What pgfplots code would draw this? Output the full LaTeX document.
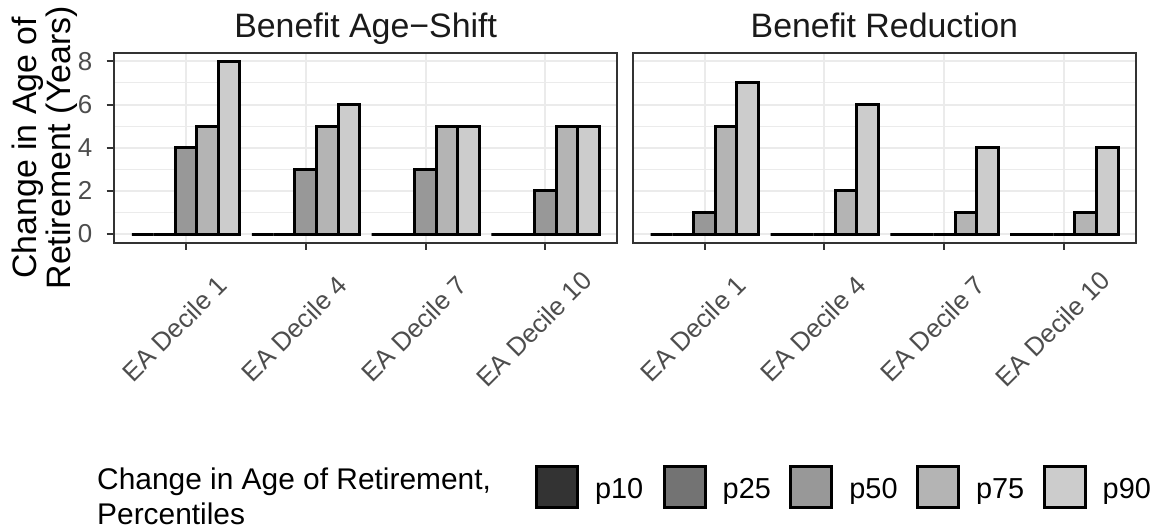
\documentclass[border=0pt]{standalone}
\usepackage{fontspec}
\setmainfont{Liberation Sans}
\usepackage{pgfplots}
\pgfplotsset{compat=1.18}
\definecolor{c10}{HTML}{333333}
\definecolor{c25}{HTML}{737373}
\definecolor{c50}{HTML}{989898}
\definecolor{c75}{HTML}{B4B4B4}
\definecolor{c90}{HTML}{CCCCCC}
\definecolor{gridc}{HTML}{EBEBEB}
\definecolor{borderc}{HTML}{333333}
\definecolor{tickc}{HTML}{4D4D4D}
\definecolor{titlec}{HTML}{1A1A1A}
\pgfplotsset{
  panel/.style={
    scale only axis, width=251.65bp, height=95bp, anchor=south west,
    xmin=0.4, xmax=4.6, ymin=-0.4, ymax=8.4,
    xtick={1,2,3,4},
    xticklabels={EA Decile 1, EA Decile 4, EA Decile 7, EA Decile 10},
    ytick={0,2,4,6,8}, minor ytick={1,3,5,7},
    xmajorgrids, ymajorgrids, yminorgrids,
    major grid style={color=gridc, line width=1bp},
    minor grid style={color=gridc, line width=0.55bp},
    axis line style={color=borderc, line width=1bp},
    tick align=outside, xtick pos=left, ytick pos=left,
    major tick length=3.65bp, minor tick length=0pt,
    tick style={color=borderc, line width=1bp},
    /pgf/number format/assume math mode=true,
    tick label style={font=\fontsize{13}{15.5}\selectfont, text=tickc},
    yticklabel style={anchor=east, inner sep=0pt, xshift=-7bp},
    xticklabel style={inner sep=0pt, xshift=-5.75bp, yshift=-39.4bp, rotate=45, anchor=center},
    every axis title/.style={at={(0.5,1)}, anchor=base, yshift=7.7bp, inner sep=0pt,
      font=\fontsize{17}{20}\selectfont, text=titlec},
  },
  bars/.style={ybar, bar width=0.18, draw=black, line width=1.5bp},
}
\begin{document}
\begin{tikzpicture}
\useasboundingbox (0,0) rectangle (580.5bp,264.5bp);
\begin{axis}[panel, at={(57bp,143.15bp)}, title={Benefit Age−Shift}]
\addplot[bars, bar shift=-0.36, fill=c10] coordinates {(1,0) (2,0) (3,0) (4,0)};
\addplot[bars, bar shift=-0.18, fill=c25] coordinates {(1,0) (2,0) (3,0) (4,0)};
\addplot[bars, bar shift=0, fill=c50] coordinates {(1,4) (2,3) (3,3) (4,2)};
\addplot[bars, bar shift=0.18, fill=c75] coordinates {(1,5) (2,5) (3,5) (4,5)};
\addplot[bars, bar shift=0.36, fill=c90] coordinates {(1,8) (2,6) (3,5) (4,5)};
\end{axis}
\begin{axis}[panel, at={(316.35bp,143.15bp)}, title={Benefit Reduction},
  yticklabels={}, ytick style={draw=none}]
\addplot[bars, bar shift=-0.36, fill=c10] coordinates {(1,0) (2,0) (3,0) (4,0)};
\addplot[bars, bar shift=-0.18, fill=c25] coordinates {(1,0) (2,0) (3,0) (4,0)};
\addplot[bars, bar shift=0, fill=c50] coordinates {(1,1) (2,0) (3,0) (4,0)};
\addplot[bars, bar shift=0.18, fill=c75] coordinates {(1,5) (2,2) (3,1) (4,1)};
\addplot[bars, bar shift=0.36, fill=c90] coordinates {(1,7) (2,6) (3,4) (4,4)};
\end{axis}
% y-axis title
\node[rotate=90, anchor=base, inner sep=0pt, font=\fontsize{17}{20}\selectfont] at (18.4bp,190.6bp) {Change in Age of};
\node[rotate=90, anchor=base, inner sep=0pt, font=\fontsize{17}{20}\selectfont] at (35bp,190.6bp) {Retirement (Years)};
% legend
\node[anchor=base west, inner sep=0pt, font=\fontsize{15}{18}\selectfont] at (48.4bp,20bp) {Change in Age of Retirement,};
\node[anchor=base west, inner sep=0pt, font=\fontsize{15}{18}\selectfont] at (48.4bp,2.5bp) {Percentiles};
\foreach \x/\c/\t in {267.5/c10/p10, 331.35/c25/p25, 394.7/c50/p50, 458/c75/p75, 521.35/c90/p90}{
  \draw[fill=\c, draw=black, line width=1.5bp] (\x bp+0.75bp,10.6bp) rectangle (\x bp+21.25bp,31.25bp);
  \node[anchor=base west, inner sep=0pt, font=\fontsize{14.5}{17}\selectfont] at (\x bp+29.8bp,15.35bp) {\t};
}
\end{tikzpicture}
\end{document}
